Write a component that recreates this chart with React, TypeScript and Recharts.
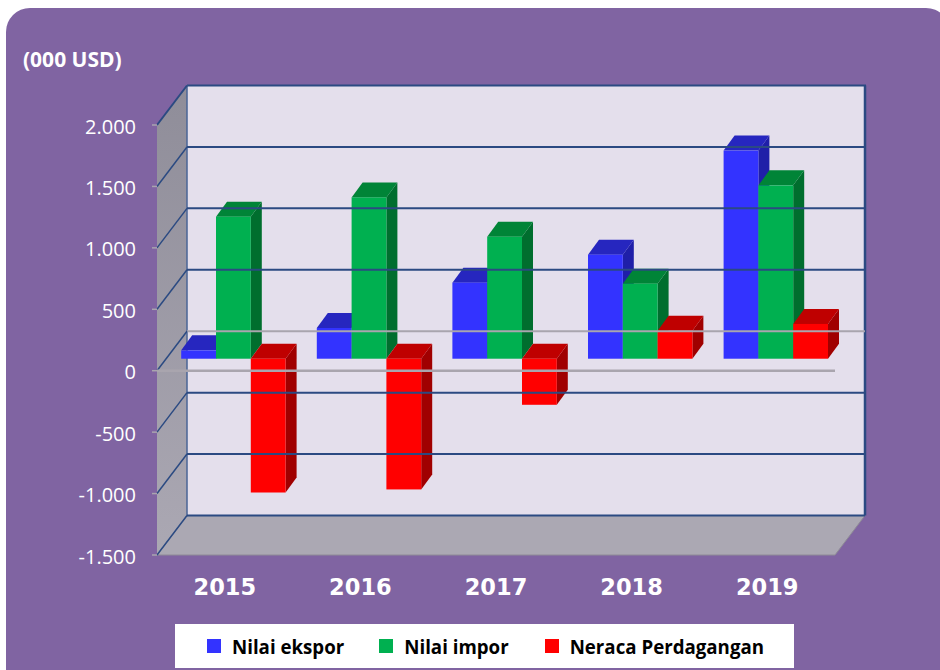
import React from "react";
import { ComposedChart, Bar, XAxis, YAxis, ReferenceArea, ReferenceLine, Legend } from "recharts";

const years = ["2015", "2016", "2017", "2018", "2019"];
const ekspor = [68, 250, 619, 847, 1694];
const impor = [1156, 1313, 993, 611, 1411];
const neraca = [-1089, -1064, -375, 228, 283];
const yTicks = [-1500, -1000, -500, 0, 500, 1000, 1500, 2000];
const rows = years.map((year, i) => ({ year, ekspor: ekspor[i], impor: impor[i], neraca: neraca[i] }));

const WALL_DX = 30;
const WALL_DY = 39.5;
const BAR_DX = 8.2;
const BAR_DY = 12;
const LID_DX = 11;
const LID_DY = 15;
const NAVY = "#2B4A82";
const GREY_LINE = "#A9A5AE";

const fmt = (v: number) => (v < 0 ? "-" : "") + (Math.abs(v) >= 1000 ? `${Math.floor(Math.abs(v) / 1000)}.${String(Math.abs(v) % 1000).padStart(3, "0")}` : String(Math.abs(v)));

function Room(props: any) {
  const { x, y, width, height } = props;
  const r = x + width;
  const b = y + height;
  const p = (a: number[][]) => a.map((q) => q.join(",")).join(" ");
  return (
    <g>
      <defs>
        <linearGradient id="leftWall" x1="0" y1="0" x2="0" y2="1">
          <stop offset="0" stopColor="#8F8D99" />
          <stop offset="1" stopColor="#ABA8B3" />
        </linearGradient>
      </defs>
      <polygon points={p([[x + WALL_DX, y - WALL_DY], [r + WALL_DX, y - WALL_DY], [r + WALL_DX, b - WALL_DY], [x + WALL_DX, b - WALL_DY]])} fill="#E4DFEC" />
      <polygon points={p([[x, y], [x + WALL_DX, y - WALL_DY], [x + WALL_DX, b - WALL_DY], [x, b]])} fill="url(#leftWall)" />
      <polygon points={p([[x, b], [x + WALL_DX, b - WALL_DY], [r + WALL_DX, b - WALL_DY], [r, b]])} fill="#ABA8B3" stroke="#8E8B96" strokeWidth={1} />
      <line x1={x + WALL_DX} y1={y - WALL_DY} x2={r + WALL_DX + 1} y2={y - WALL_DY} stroke={NAVY} strokeWidth={2} />
      <line x1={r + WALL_DX} y1={y - WALL_DY} x2={r + WALL_DX} y2={b - WALL_DY} stroke={NAVY} strokeWidth={2.5} />
      <line x1={x + WALL_DX} y1={y - WALL_DY} x2={x + WALL_DX} y2={b - WALL_DY} stroke="#4A6496" strokeWidth={1.5} />
      <line x1={x} y1={y} x2={x + WALL_DX} y2={y - WALL_DY} stroke={NAVY} strokeWidth={2} />
    </g>
  );
}

function GridLine(props: any) {
  const { x1, y1, x2, y2, zero } = props;
  const yy = y1 ?? y2;
  return (
    <g>
      <line x1={x1 + WALL_DX} y1={yy - WALL_DY} x2={x2 + WALL_DX} y2={y2 - WALL_DY} stroke={zero ? GREY_LINE : NAVY} strokeWidth={2} />
      <line x1={x1} y1={yy} x2={x1 + WALL_DX} y2={yy - WALL_DY} stroke={NAVY} strokeWidth={1.5} />
      {zero ? <line x1={x1} y1={yy} x2={x2} y2={y2} stroke={GREY_LINE} strokeWidth={2.5} /> : null}
    </g>
  );
}

const makeBox = (lid: string, side: string) => (props: any) => {
  const { x, y, width, height, fill } = props;
  const left = x + BAR_DX;
  const right = left + width;
  const top = Math.min(y, y + height) - BAR_DY;
  const bottom = Math.max(y, y + height) - BAR_DY;
  const p = (a: number[][]) => a.map((q) => q.join(",")).join(" ");
  return (
    <g>
      <polygon points={p([[right, top], [right + LID_DX, top - LID_DY], [right + LID_DX, bottom - LID_DY], [right, bottom]])} fill={side} />
      <polygon points={p([[left, top], [left + LID_DX, top - LID_DY], [right + LID_DX, top - LID_DY], [right, top]])} fill={lid} />
      <rect x={left} y={top} width={width} height={bottom - top} fill={fill} />
    </g>
  );
};

const legendGaps = [35, 36, 0];

function LegendBox({ payload }: any) {
  return (
    <div style={{ width: 619, height: 44, background: "#fff", display: "flex", alignItems: "center", boxSizing: "border-box", paddingLeft: 32, fontFamily: "'Open Sans', sans-serif", fontWeight: 700, fontSize: 18.7, color: "#000", whiteSpace: "nowrap" }}>
      {(payload || []).map((e: any, i: number) => (
        <div key={e.value} style={{ display: "flex", alignItems: "center", flex: "none", marginRight: legendGaps[i] }}>
          <span style={{ width: 14, height: 14, background: e.color, display: "inline-block", marginRight: 11 }} />
          <span>{e.value}</span>
        </div>
      ))}
    </div>
  );
}

export default function App() {
  return (
    <div style={{ position: "absolute", left: 0, top: 0, width: 940, height: 670, background: "#fff", overflow: "hidden" }}>
      <div style={{ position: "absolute", left: 6, top: 8, width: 944, height: 700, background: "#8064A2", borderRadius: 24 }} />
      <div style={{ position: "absolute", left: 23, top: 45, color: "#fff", fontFamily: "'Open Sans', sans-serif", fontWeight: 700, fontSize: 21, lineHeight: "28px", whiteSpace: "nowrap" }}>(000 USD)</div>
      <div style={{ position: "absolute", left: 0, top: 0 }}>
        <ComposedChart width={940} height={670} data={rows} barSize={34.8} barGap={0} margin={{ top: 125, right: 105, bottom: 21, left: 0 }}>
          <XAxis dataKey="year" axisLine={false} tickLine={false} tickMargin={18} height={50} interval={0} tick={{ fill: "#fff", fontFamily: "'DejaVu Sans', sans-serif", fontWeight: 700, fontSize: 22.5 }} />
          <YAxis width={157} domain={[-1500, 2000]} ticks={yTicks} interval={0} allowDataOverflow tickFormatter={fmt} axisLine={false} tickLine={{ stroke: "#A9A5AE", strokeWidth: 1.5 }} tickSize={5} tickMargin={16} tick={{ fill: "#fff", fontFamily: "'Open Sans', sans-serif", fontSize: 20, dy: 1.5 }} />
          <ReferenceArea y1={-1500} y2={2000} shape={<Room />} fill="none" />
          {yTicks.filter((t) => t !== 2000 && t !== -1500).map((t) => (
            <ReferenceLine key={t} y={t} shape={<GridLine zero={t === 0} />} />
          ))}
          <ReferenceLine y={-1500} shape={<GridLine />} />
          <Bar dataKey="ekspor" name="Nilai ekspor" fill="#3333FF" isAnimationActive={false} shape={makeBox("#2626BF", "#1F1FA8")} />
          <Bar dataKey="impor" name="Nilai impor" fill="#00B050" isAnimationActive={false} shape={makeBox("#008437", "#006E2E")} />
          <Bar dataKey="neraca" name="Neraca Perdagangan" fill="#FF0000" isAnimationActive={false} shape={makeBox("#BF0000", "#A00000")} />
          <Legend itemSorter={null} content={<LegendBox />} wrapperStyle={{ left: 175, top: 624, bottom: "auto", width: 619, height: 44 }} />
        </ComposedChart>
      </div>
    </div>
  );
}
